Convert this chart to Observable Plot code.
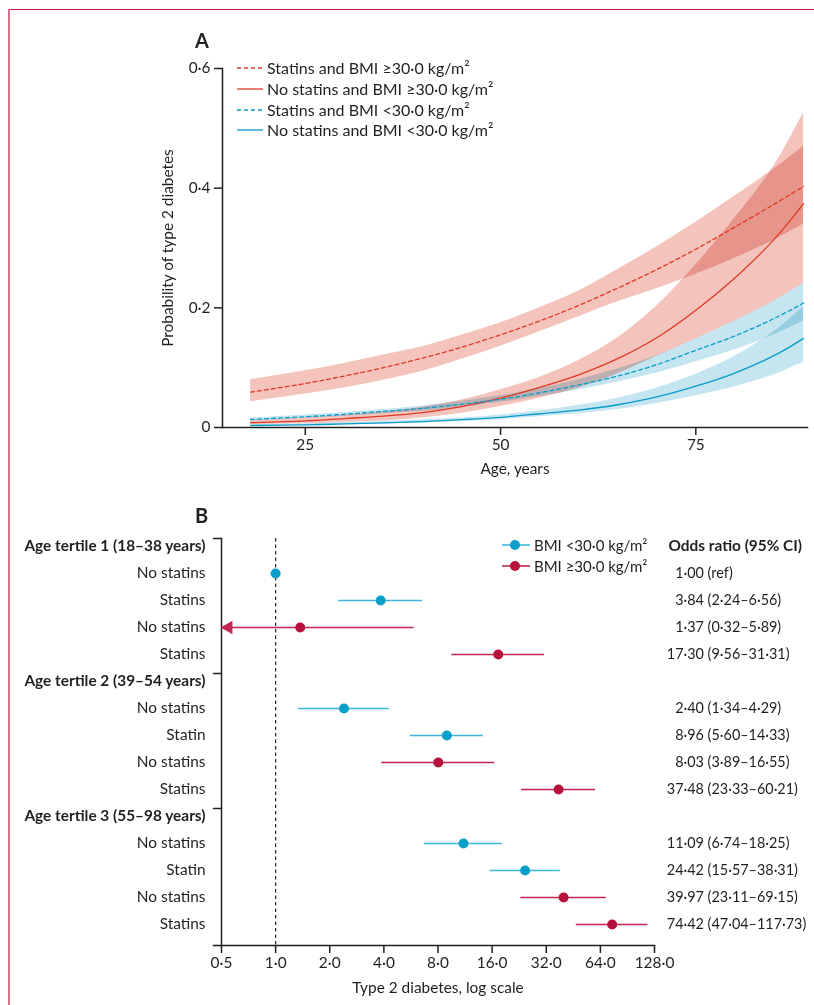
<!DOCTYPE html>
<html><head><meta charset="utf-8">
<script src="https://cdn.jsdelivr.net/npm/d3@7"></script>
<script src="https://cdn.jsdelivr.net/npm/@observablehq/plot@0.6"></script>
<style>
body{margin:0;background:#fff;font-family:Lato,"Open Sans",sans-serif;color:#231f20;}
#page{position:relative;width:814px;height:1005px;overflow:hidden;background:#fff;}
#bTop{position:absolute;left:8px;top:9px;right:0;border-top:1.5px solid #c4264a;}
#bLeft{position:absolute;left:8px;top:9px;bottom:0;border-left:2px solid #d8708a;}
.panelLetter{position:absolute;font-weight:bold;font-size:20px;line-height:20px;}
#plotA{position:absolute;left:0;top:0;}
#plotB{position:absolute;left:0;top:490px;}
.leg{position:absolute;height:20px;line-height:20px;white-space:nowrap;display:flex;align-items:center;}
.leg svg{display:block;margin-right:3px;}
svg text{fill:#231f20;}
</style></head>
<body><div id="page">
<div id="bTop"></div><div id="bLeft"></div>
<div id="plotA"></div><div id="plotB"></div>
<div class="panelLetter" style="left:195px;top:30px">A</div>
<div class="panelLetter" style="left:195px;top:505px">B</div>
</div>
<script>
// ---------- Panel A data ----------
const ages = [18, 25, 30, 35, 40, 45, 50, 55, 60, 65, 70, 75, 80, 85, 88.8];
const statinsObese     = [0.059, 0.0735, 0.086, 0.100, 0.116, 0.134, 0.155, 0.178, 0.204, 0.233, 0.264, 0.298, 0.335, 0.373, 0.403];
const statinsObeseLo   = [0.043, 0.056, 0.066, 0.079, 0.094, 0.114, 0.136, 0.160, 0.185, 0.210, 0.232, 0.256, 0.283, 0.313, 0.340];
const statinsObeseHi   = [0.080, 0.095, 0.107, 0.121, 0.135, 0.154, 0.175, 0.200, 0.228, 0.264, 0.302, 0.343, 0.387, 0.432, 0.470];
const noStatinsObese   = [0.008, 0.011, 0.015, 0.019, 0.025, 0.035, 0.049, 0.067, 0.088, 0.115, 0.150, 0.196, 0.250, 0.314, 0.374];
const noStatinsObeseLo = [0.0045, 0.0065, 0.0085, 0.011, 0.016, 0.024, 0.035, 0.049, 0.066, 0.090, 0.119, 0.148, 0.178, 0.211, 0.241];
const noStatinsObeseHi = [0.012, 0.016, 0.020, 0.026, 0.034, 0.046, 0.063, 0.084, 0.112, 0.150, 0.203, 0.272, 0.350, 0.437, 0.526];
const statinsLean      = [0.0134, 0.018, 0.022, 0.027, 0.032, 0.039, 0.047, 0.058, 0.071, 0.086, 0.105, 0.129, 0.153, 0.182, 0.208];
const statinsLeanLo    = [0.0112, 0.0155, 0.019, 0.023, 0.027, 0.034, 0.042, 0.052, 0.063, 0.076, 0.091, 0.110, 0.130, 0.155, 0.178];
const statinsLeanHi    = [0.0158, 0.021, 0.025, 0.030, 0.036, 0.044, 0.053, 0.065, 0.080, 0.098, 0.120, 0.148, 0.178, 0.211, 0.241];
const noStatinsLean    = [0.0033, 0.0045, 0.006, 0.0078, 0.0098, 0.013, 0.017, 0.023, 0.029, 0.038, 0.051, 0.069, 0.091, 0.120, 0.149];
const noStatinsLeanLo  = [0.0022, 0.0032, 0.0044, 0.0058, 0.0076, 0.010, 0.0135, 0.018, 0.023, 0.030, 0.040, 0.053, 0.068, 0.088, 0.109];
const noStatinsLeanHi  = [0.0048, 0.0063, 0.008, 0.0102, 0.0128, 0.016, 0.021, 0.028, 0.037, 0.049, 0.066, 0.089, 0.119, 0.160, 0.202];
const seriesNames = ["Statins and BMI ≥30·0 kg/m²", "No statins and BMI ≥30·0 kg/m²", "Statins and BMI <30·0 kg/m²", "No statins and BMI <30·0 kg/m²"];
const yTicksA = [0, 0.2, 0.4, 0.6];
const xTicksA = [25, 50, 75];

// ---------- Panel B data ----------
const rowLabels = ["Age tertile 1 (18–38 years)", "No statins", "Statins", "No statins", "Statins",
  "Age tertile 2 (39–54 years)", "No statins", "Statin", "No statins", "Statins",
  "Age tertile 3 (55–98 years)", "No statins", "Statin", "No statins", "Statins"];
const bmiGroup = [null, "<30", "<30", "≥30", "≥30", null, "<30", "<30", "≥30", "≥30", null, "<30", "<30", "≥30", "≥30"];
const oddsRatio = [null, 1.00, 3.84, 1.37, 17.30, null, 2.40, 8.96, 8.03, 37.48, null, 11.09, 24.42, 39.97, 74.42];
const ciLow  = [null, null, 2.24, 0.32, 9.56, null, 1.34, 5.60, 3.89, 23.33, null, 6.74, 15.57, 23.11, 47.04];
const ciHigh = [null, null, 6.56, 5.89, 31.31, null, 4.29, 14.33, 16.55, 60.21, null, 18.25, 38.31, 69.15, 117.73];
const xTicksB = [0.5, 1, 2, 4, 8, 16, 32, 64, 128];
const legendB = ["BMI <30·0 kg/m²", "BMI ≥30·0 kg/m²"];

// ---------- styles ----------
const RED_LINE = "#dd3b27", BLUE_LINE = "#0a9bc9";
const RED_BAND = "#f3c3bc", BLUE_BAND = "#c5e5f0";
const BLUE_DOT = "#0a9fc8", RED_DOT = "#b5113c";
const BLUE_CI = "#3fb6dc", RED_CI = "#c2274f";
const INK = "#231f20";
const FONT = "Lato, 'Open Sans', sans-serif";
const FS = 15.4;
const FS_OR = 14.4;
const fmt = (v, d) => v.toFixed(d).replace(".", "·");

const series = [
  {name: seriesNames[0], v: statinsObese, lo: statinsObeseLo, hi: statinsObeseHi, stroke: RED_LINE, band: RED_BAND, dash: "4,3"},
  {name: seriesNames[1], v: noStatinsObese, lo: noStatinsObeseLo, hi: noStatinsObeseHi, stroke: RED_LINE, band: RED_BAND, dash: null},
  {name: seriesNames[2], v: statinsLean, lo: statinsLeanLo, hi: statinsLeanHi, stroke: BLUE_LINE, band: BLUE_BAND, dash: "4,3"},
  {name: seriesNames[3], v: noStatinsLean, lo: noStatinsLeanLo, hi: noStatinsLeanHi, stroke: BLUE_LINE, band: BLUE_BAND, dash: null}
];
const rowsOf = s => ages.map((a, i) => ({age: a, p: s.v[i], lo: s.lo[i], hi: s.hi[i]}));

const marksA = [];
for (const s of series) {
  marksA.push(Plot.areaY(rowsOf(s), {x: "age", y1: "lo", y2: "hi", fill: s.band, curve: "catmull-rom", mixBlendMode: "multiply"}));
}
for (const s of series) {
  marksA.push(Plot.line(rowsOf(s), {x: "age", y: "p", stroke: s.stroke, strokeWidth: 1.3, curve: "catmull-rom", strokeDasharray: s.dash || undefined}));
}
marksA.push(
  Plot.frame({anchor: "left", stroke: INK, strokeWidth: 1.5}),
  Plot.frame({anchor: "bottom", stroke: INK, strokeWidth: 1.5}),
  Plot.axisY({ticks: yTicksA, tickFormat: d => d === 0 ? "0" : fmt(d, 1), tickSize: 8, tickPadding: 4, label: null, strokeWidth: 1.5}),
  Plot.axisX({ticks: xTicksA, tickSize: 8, tickPadding: 4, label: null, strokeWidth: 1.5}),
  Plot.text(["Probability of type 2 diabetes"], {frameAnchor: "left", textAnchor: "middle", text: d => d, rotate: -90, dx: -54, fontSize: FS}),
  Plot.text(["Age, years"], {frameAnchor: "bottom", text: d => d, dy: 46, fontSize: FS})
);

const plotA = Plot.plot({
  width: 814, height: 490,
  marginLeft: 222, marginRight: 7, marginTop: 68, marginBottom: 63,
  style: {fontFamily: FONT, fontSize: FS + "px", color: INK, background: "transparent", overflow: "visible"},
  x: {domain: [14.4, 89.3], axis: null},
  y: {domain: [0, 0.6], axis: null},
  marks: marksA
});
document.getElementById("plotA").appendChild(plotA);

// Legend A
const page = document.getElementById("page");
series.forEach((s, i) => {
  const d = document.createElement("div");
  d.className = "leg";
  d.style.left = "236px";
  d.style.top = (58 + i * 20.8) + "px";
  d.style.fontSize = "16px";
  d.innerHTML = `<svg width="28" height="20"><line x1="1" x2="27" y1="10" y2="10" stroke="${s.stroke}" stroke-width="1.3" ${s.dash ? `stroke-dasharray="${s.dash}"` : ""}/></svg><span>${s.name}</span>`;
  page.appendChild(d);
});

// ---------- Panel B ----------
const rows = rowLabels.map((label, i) => ({
  i, label, header: bmiGroup[i] === null, group: bmiGroup[i],
  or: oddsRatio[i], lo: ciLow[i], hi: ciHigh[i]
}));
const headers = rows.filter(d => d.header);
const est = rows.filter(d => d.or != null);
const withCI = est.filter(d => d.lo != null);
const colorOf = d => d.group === "<30" ? BLUE_DOT : RED_DOT;
const ciColorOf = d => d.group === "<30" ? BLUE_CI : RED_CI;
const orText = d => d.lo == null ? "(ref)" : `(${fmt(d.lo, 2)}–${fmt(d.hi, 2)})`;
const intPart = d => String(Math.floor(d.or));

const plotB = Plot.plot({
  width: 814, height: 515,
  marginLeft: 221, marginRight: 160, marginTop: 48, marginBottom: 60,
  style: {fontFamily: FONT, fontSize: FS + "px", color: INK, background: "transparent", overflow: "visible"},
  x: {type: "log", base: 2, domain: [0.5, 128], clamp: true, axis: null},
  y: {type: "point", domain: rows.map(d => d.i), range: [55, 435], padding: 0, axis: null},
  marks: [
    Plot.ruleX([1], {stroke: INK, strokeWidth: 1.2, strokeDasharray: "3.5,3"}),
    Plot.frame({anchor: "left", stroke: INK, strokeWidth: 1.5}),
    Plot.frame({anchor: "bottom", stroke: INK, strokeWidth: 1.5, insetLeft: -8}),
    Plot.vector(headers, {x: 0.5, y: "i", length: 8, rotate: 270, anchor: "start", dy: -8, stroke: INK, strokeWidth: 1.5,
      shape: {draw(ctx, l) { ctx.moveTo(0, 0); ctx.lineTo(0, -l); }}}),
    Plot.axisX({ticks: xTicksB, tickFormat: d => fmt(d, 1), tickSize: 8, tickPadding: 4, label: null, strokeWidth: 1.5}),
    Plot.ruleY(withCI, {y: "i", x1: "lo", x2: "hi", stroke: ciColorOf, strokeWidth: 1.6}),
    Plot.dot(withCI.filter(d => d.lo < 0.5), {x: "lo", y: "i", symbol: "triangle2", rotate: -90, r: 6.5, fill: ciColorOf, dx: 7}),
    Plot.dot(est, {x: "or", y: "i", r: 5, fill: colorOf}),
    Plot.text(headers, {y: "i", frameAnchor: "left", text: "label", textAnchor: "end", dx: -16, fontWeight: "bold", fontSize: FS}),
    Plot.text(rows.filter(d => !d.header), {y: "i", frameAnchor: "left", text: "label", textAnchor: "end", dx: -16, fontSize: FS}),
    Plot.text(headers.slice(0, 1), {y: "i", x: () => 128, text: () => "Odds ratio (95% CI)", textAnchor: "start", dx: 14, fontWeight: "bold", fontSize: FS}),
    Plot.text(est, {y: "i", x: () => 128, text: intPart, textAnchor: "end", dx: 29, fontSize: FS_OR}),
    Plot.text(est, {y: "i", x: () => 128, text: d => fmt(d.or, 2).slice(intPart(d).length) + " " + orText(d), textAnchor: "start", dx: 29, fontSize: FS_OR}),
    Plot.text(["Type 2 diabetes, log scale"], {frameAnchor: "bottom", text: d => d, dy: 47, fontSize: FS})
  ]
});
document.getElementById("plotB").appendChild(plotB);

// Legend B
legendB.forEach((name, k) => {
  const c = k === 0 ? BLUE_DOT : RED_DOT, lc = k === 0 ? BLUE_CI : RED_CI;
  const d = document.createElement("div");
  d.className = "leg";
  d.style.left = "501px";
  d.style.top = (535 + k * 21) + "px";
  d.style.fontSize = "15px";
  d.innerHTML = `<svg width="30" height="20"><line x1="1" x2="29" y1="10" y2="10" stroke="${lc}" stroke-width="1.6"/><circle cx="14" cy="10" r="5" fill="${c}"/></svg><span>${name}</span>`;
  page.appendChild(d);
});
</script>
</body></html>
